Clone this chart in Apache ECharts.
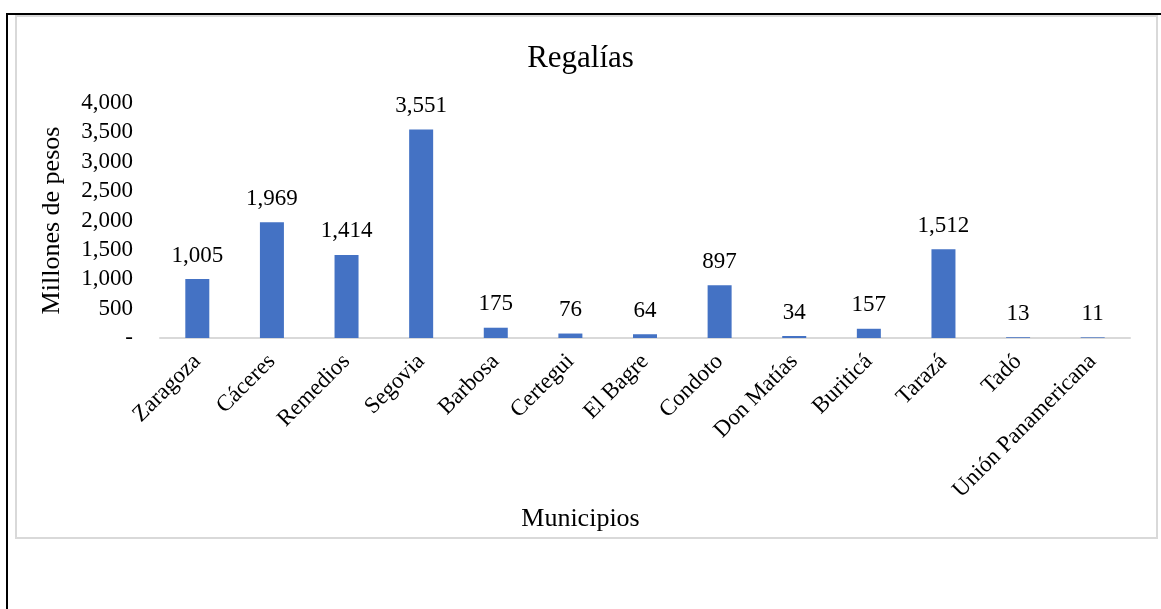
<!DOCTYPE html>
<html>
<head>
<meta charset="utf-8">
<script src="https://cdn.jsdelivr.net/npm/echarts@6/dist/echarts.min.js"></script>
<style>
  html, body { margin: 0; padding: 0; background: #fff; }
  #chart { width: 1161px; height: 609px; }
</style>
</head>
<body>
<div id="chart"></div>
<script>
var municipios = ['Zaragoza', 'Cáceres', 'Remedios', 'Segovia', 'Barbosa', 'Certegui', 'El Bagre',
  'Condoto', 'Don Matías', 'Buriticá', 'Tarazá', 'Tadó', 'Unión Panamericana'];
var regalias = [1005, 1969, 1414, 3551, 175, 76, 64, 897, 34, 157, 1512, 13, 11];

var font = '"Liberation Serif", "Times New Roman", serif';

function fmt(v) {
  if (v === 0) return '-';
  return v.toLocaleString('en-US');
}

var chart = echarts.init(document.getElementById('chart'));
chart.setOption({
  backgroundColor: '#fff',
  animation: false,
  textStyle: { fontFamily: font },
  title: {
    text: 'Regalías',
    left: 'center',
    top: 38,
    textStyle: { fontFamily: font, fontSize: 31, fontWeight: 'normal', color: '#000' }
  },
  graphic: [
    // black frame (top and left only)
    { type: 'line', shape: { x1: 7, y1: 14, x2: 1161, y2: 14 },
      style: { stroke: '#000', lineWidth: 2 }, silent: true },
    { type: 'line', shape: { x1: 7, y1: 13, x2: 7, y2: 609 },
      style: { stroke: '#000', lineWidth: 2 }, silent: true },
    // gray chart area border
    { type: 'rect', shape: { x: 16, y: 16, width: 1141, height: 522 },
      style: { fill: null, stroke: '#d9d9d9', lineWidth: 2 }, silent: true },
    { type: 'text', left: 'center', top: 506,
      style: { text: 'Municipios', fontFamily: font, fontSize: 26, fill: '#000' } }
  ],
  grid: { left: 160, right: 31, top: 103, bottom: 271 },
  xAxis: {
    type: 'category',
    data: municipios,
    axisLine: { lineStyle: { color: '#d9d9d9', width: 2 } },
    axisTick: { show: false },
    axisLabel: {
      interval: 0, rotate: 45, margin: 20,
      fontFamily: font, fontSize: 23, color: '#000'
    }
  },
  yAxis: {
    type: 'value',
    min: 0, max: 4000, interval: 500,
    name: 'Millones de pesos',
    nameLocation: 'middle',
    nameGap: 95,
    nameTextStyle: { fontFamily: font, fontSize: 26, color: '#000' },
    splitLine: { show: false },
    axisLine: { show: false },
    axisTick: { show: false },
    axisLabel: {
      margin: 27, fontFamily: font, fontSize: 23, color: '#000',
      formatter: fmt
    }
  },
  series: [{
    type: 'bar',
    data: regalias,
    barWidth: 24,
    itemStyle: { color: '#4472c4' },
    label: {
      show: true, position: 'top', distance: 12,
      fontFamily: font, fontSize: 23, color: '#000',
      formatter: function (p) { return fmt(p.value); }
    }
  }]
});
</script>
</body>
</html>
